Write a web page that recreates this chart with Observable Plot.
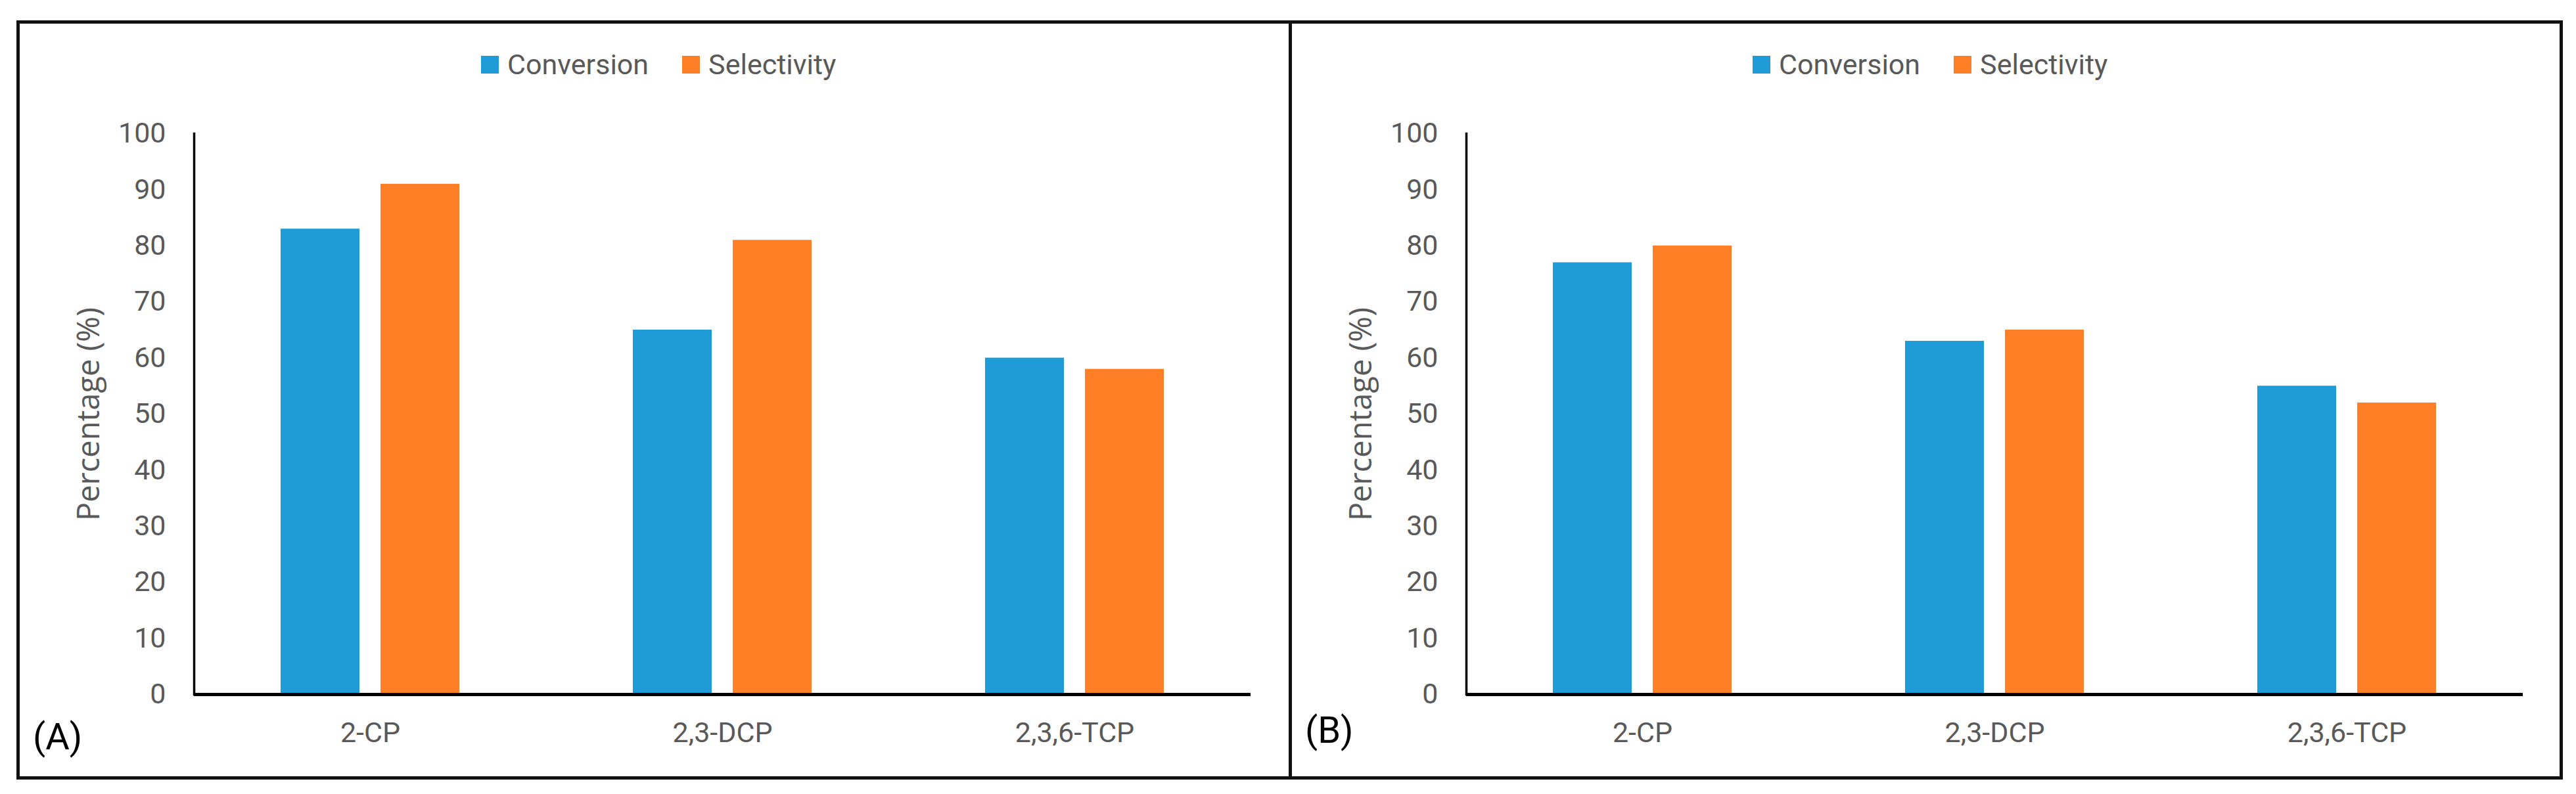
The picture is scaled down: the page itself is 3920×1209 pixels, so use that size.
<!DOCTYPE html>
<html><head><meta charset="utf-8">
<script src="https://cdn.jsdelivr.net/npm/d3@7"></script>
<script src="https://cdn.jsdelivr.net/npm/@observablehq/plot@0.6"></script>
<style>
html,body{margin:0;padding:0;background:#fff;}
body{width:3920px;height:1209px;position:relative;overflow:hidden;font-family:Roboto,sans-serif;}
.box{position:absolute;left:25px;top:31px;width:3865px;height:1146px;border:5px solid #111;}
.divider{position:absolute;left:1961px;top:31px;width:5px;height:1156px;background:#111;}
.panel{position:absolute;top:0;}
.legend{position:absolute;top:77px;height:42px;display:flex;align-items:center;font-size:43px;color:#595959;white-space:nowrap;}
.legend .item{display:flex;align-items:center;margin-right:51px;}
.legend .sw{width:27px;height:27px;margin-right:13px;}
.tag{position:absolute;font-size:56px;color:#000;line-height:1;}
</style>
</head><body>
<div class="box"></div>
<div class="divider"></div>
<div id="A" class="panel" style="left:0px"></div>
<div id="B" class="panel" style="left:1963px"></div>
<div id="legA" class="legend" style="left:732px"></div>
<div id="legB" class="legend" style="left:2667px"></div>
<div class="tag" style="left:50px;top:1094px">(A)</div>
<div class="tag" style="left:1986px;top:1084px">(B)</div>
<script>
const categories = ["2-CP", "2,3-DCP", "2,3,6-TCP"];
const series = ["Conversion", "Selectivity"];
const conversionA = [83, 65, 60];
const selectivityA = [91, 81, 58];
const conversionB = [77, 63, 55];
const selectivityB = [80, 65, 52];
const yTicks = [0, 10, 20, 30, 40, 50, 60, 70, 80, 90, 100];
const colors = ["#1f9cd8", "#ff7f27"];
const yLabel = "Percentage (%)";

function rows(conv, sel) {
  return categories.flatMap((c, i) => [
    {cat: c, series: series[0], value: conv[i]},
    {cat: c, series: series[1], value: sel[i]}
  ]);
}

function chart(conv, sel, width, marginLeft, marginRight) {
  return Plot.plot({
    width, height: 1209,
    marginTop: 203, marginBottom: 152, marginLeft, marginRight,
    style: {fontFamily: "Roboto, sans-serif", fontSize: "43px", color: "#595959", background: "transparent", overflow: "visible"},
    fx: {domain: categories, padding: 0, label: null},
    x: {domain: series, paddingInner: 0.21, paddingOuter: 0.868, axis: null},
    y: {domain: [0, 100], labelArrow: "none"},
    color: {domain: series, range: colors},
    marks: [
      Plot.barY(rows(conv, sel), {fx: "cat", x: "series", y: "value", fill: "series"}),
      Plot.axisY({ticks: yTicks, tickSize: 0, tickPadding: 43, label: null, fill: "#595959", fontSize: 43}),
      Plot.axisY({ticks: [], label: yLabel, labelArrow: "none", labelAnchor: "center", labelOffset: 178, fontSize: 47, fontFamily: "Open Sans", fill: "#595959"}),
      Plot.axisFx({anchor: "bottom", tickSize: 0, tickPadding: 42, label: null, fontSize: 43, fill: "#595959"}),
      Plot.frame({anchor: "left", facetAnchor: "left", stroke: "#000", strokeWidth: 3.5}),
      Plot.ruleY([0], {stroke: "#000", strokeWidth: 5})
    ]
  });
}

function legend(el) {
  series.forEach((s, i) => {
    const item = document.createElement("div");
    item.className = "item";
    const sw = document.createElement("div");
    sw.className = "sw";
    sw.style.background = colors[i];
    const t = document.createElement("span");
    t.textContent = s;
    item.appendChild(sw); item.appendChild(t);
    el.appendChild(item);
  });
}

document.getElementById("A").appendChild(chart(conversionA, selectivityA, 1960, 295, 57));
document.getElementById("B").appendChild(chart(conversionB, selectivityB, 1957, 268, 81));
legend(document.getElementById("legA"));
legend(document.getElementById("legB"));
</script>
</body></html>
